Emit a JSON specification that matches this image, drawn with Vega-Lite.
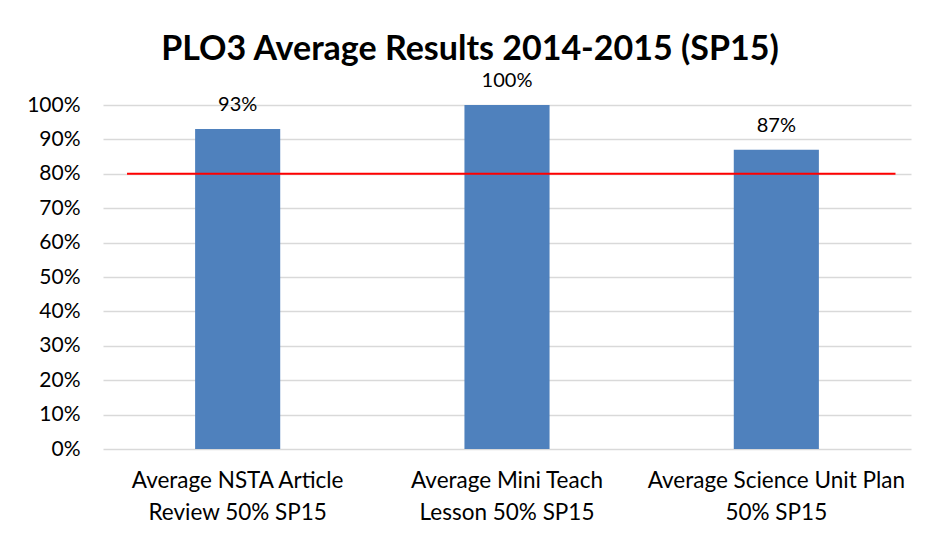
{
  "$schema": "https://vega.github.io/schema/vega-lite/v6.json",
  "width": 808,
  "height": 344,
  "autosize": {"type": "none"},
  "padding": {"left": 103, "top": 105, "right": 16, "bottom": 91},
  "background": "white",
  "title": {
    "text": "PLO3 Average Results 2014-2015 (SP15)",
    "font": "Lato",
    "fontSize": 34,
    "fontWeight": "bold",
    "color": "black",
    "anchor": "middle",
    "frame": "group",
    "dx": -37,
    "offset": 4
  },
  "config": {"view": {"stroke": null}},
  "data": {
    "values": [
      {"assessment": "Average NSTA Article\nReview 50% SP15", "score": 0.93},
      {"assessment": "Average Mini Teach\nLesson 50% SP15", "score": 1.0},
      {"assessment": "Average Science Unit Plan\n50% SP15", "score": 0.87}
    ]
  },
  "encoding": {
    "x": {
      "field": "assessment",
      "type": "nominal",
      "sort": null,
      "scale": {
        "domain": ["Average NSTA Article\nReview 50% SP15", "Average Mini Teach\nLesson 50% SP15", "Average Science Unit Plan\n50% SP15"],
        "paddingInner": 0.684,
        "paddingOuter": 0.342
      },
      "axis": {
        "title": null,
        "labelAngle": 0,
        "labelExpr": "split(datum.label, '\\n')",
        "labelFont": "Lato",
        "labelFontSize": 22.5,
        "labelColor": "black",
        "labelLineHeight": 32,
        "labelPadding": 20,
        "labelLimit": 400,
        "labelOverlap": false,
        "domain": false,
        "ticks": false
      }
    },
    "y": {
      "field": "score",
      "type": "quantitative",
      "scale": {"domain": [0, 1]},
      "axis": {
        "title": null,
        "format": ".0%",
        "tickCount": 20,
        "values": [0, 0.1, 0.2, 0.3, 0.4, 0.5, 0.6, 0.7, 0.8, 0.9, 1.0],
        "labelOverlap": false,
        "grid": true,
        "gridColor": "#d9d9d9",
        "gridWidth": 1.5,
        "domain": false,
        "ticks": false,
        "labelPadding": 23,
        "labelFont": "Lato",
        "labelFontSize": 21,
        "labelColor": "black"
      }
    }
  },
  "layer": [
    {
      "mark": {"type": "bar", "color": "#4F81BD"}
    },
    {
      "mark": {"type": "text", "baseline": "middle", "dy": -24, "font": "Lato", "fontSize": 20, "color": "black"},
      "encoding": {
        "text": {"field": "score", "type": "quantitative", "format": ".0%"}
      }
    },
    {
      "data": {"values": [{"score": 0.8, "from": "Average NSTA Article\nReview 50% SP15", "to": "Average Science Unit Plan\n50% SP15"}]},
      "mark": {"type": "rule", "color": "#FF0000", "strokeWidth": 2},
      "encoding": {
        "x": {"field": "from", "type": "nominal", "bandPosition": -0.8},
        "x2": {"field": "to", "bandPosition": 1.9}
      }
    }
  ]
}
